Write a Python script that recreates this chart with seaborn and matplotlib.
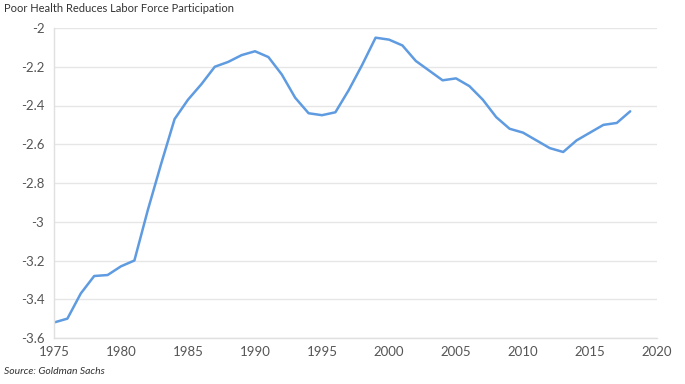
import matplotlib
matplotlib.use("Agg")
import matplotlib.pyplot as plt
import seaborn as sns
import pandas as pd

years = list(range(1975, 2019))
values = [-3.52, -3.50, -3.37, -3.28, -3.275, -3.23, -3.20, -2.94, -2.70, -2.47,
          -2.37, -2.29, -2.20, -2.175, -2.14, -2.12, -2.15, -2.24, -2.36, -2.44,
          -2.45, -2.435, -2.32, -2.19, -2.05, -2.06, -2.09, -2.17, -2.22, -2.27,
          -2.26, -2.30, -2.37, -2.46, -2.52, -2.54, -2.58, -2.62, -2.64, -2.58,
          -2.54, -2.50, -2.49, -2.43]
x_ticks = [1975, 1980, 1985, 1990, 1995, 2000, 2005, 2010, 2015, 2020]
y_ticks = [-3.6, -3.4, -3.2, -3.0, -2.8, -2.6, -2.4, -2.2, -2.0]
y_labels = ["-3.6", "-3.4", "-3.2", "-3", "-2.8", "-2.6", "-2.4", "-2.2", "-2"]

df = pd.DataFrame({"year": years, "value": values})

sns.set_theme(style="white")
plt.rcParams["font.family"] = ["Lato", "DejaVu Sans"]

fig = plt.figure(figsize=(6.85, 3.84), dpi=100)
ax = fig.add_axes([54/685, 1 - 338/384, (657 - 54)/685, (338 - 28)/384])

sns.lineplot(data=df, x="year", y="value", ax=ax, color="#5f9be0", linewidth=1.8)

ax.set_xlim(1975, 2020)
ax.set_ylim(-3.6, -2.0)
ax.set_xticks(x_ticks)
ax.set_xticklabels([str(t) for t in x_ticks])
ax.set_yticks(y_ticks)
ax.set_yticklabels(y_labels)
ax.set_xlabel("")
ax.set_ylabel("")

ax.yaxis.grid(True, color="#e6e6e6", linewidth=1.0)
ax.xaxis.grid(False)
for s in ["top", "right"]:
    ax.spines[s].set_visible(False)
for s in ["left", "bottom"]:
    ax.spines[s].set_color("#e0e0e0")
    ax.spines[s].set_linewidth(1.0)

ax.tick_params(axis="both", colors="#e0e0e0", labelcolor="#555555", labelsize=9.5,
               length=4, width=1)
ax.tick_params(axis="x", pad=6, direction="in")
ax.tick_params(axis="y", pad=3)

fig.text(4/685, 1 - 8/384, "Poor Health Reduces Labor Force Participation",
         fontsize=8, color="#333333", ha="left", va="center")
fig.text(4/685, 1 - 371/384, "Source: Goldman Sachs", fontsize=7.5,
         color="#333333", style="italic", ha="left", va="center")

fig.savefig("out.png", dpi=100, facecolor="white")
